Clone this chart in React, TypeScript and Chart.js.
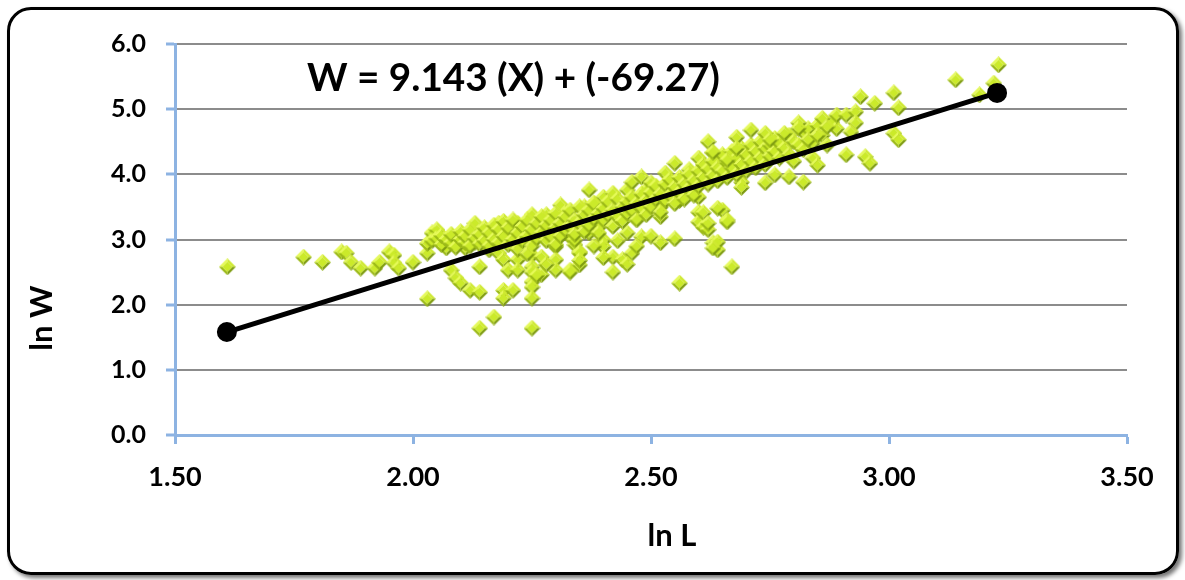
import React, { useEffect, useRef } from 'react';
import { Chart, registerables } from 'chart.js';

Chart.register(...registerables);

// ---- data (ln L, ln W) ----
const tailPoints: [number, number][] = [
  [1.61, 2.58], [1.77, 2.73], [1.81, 2.65], [1.85, 2.81], [1.86, 2.79], [1.87, 2.65], [1.89, 2.56],
  [1.92, 2.56], [1.93, 2.65], [1.95, 2.81], [1.96, 2.76], [1.96, 2.64], [1.97, 2.56], [2.0, 2.65],
  [2.03, 2.09], [2.03, 2.79], [2.03, 2.94], [2.04, 3.1], [2.05, 3.15], [2.06, 3.0], [2.07, 2.87],
  [2.08, 2.53], [2.09, 2.41], [2.1, 2.33], [2.09, 3.03], [2.09, 2.95], [2.11, 2.87], [2.13, 3.25],
  [2.12, 2.22], [2.14, 2.19], [2.14, 1.64], [2.13, 2.96], [2.14, 3.12], [2.16, 3.04], [2.16, 2.84],
  [2.14, 2.58], [2.18, 3.25], [2.17, 1.81], [2.18, 3.12], [2.18, 2.79],
];

const lowerPoints: [number, number][] = [
  [2.19, 2.69], [2.2, 2.53], [2.19, 2.22], [2.21, 2.22], [2.19, 2.1], [2.2, 3.04], [2.21, 3.12],
  [2.22, 3.25], [2.22, 2.95], [2.22, 2.69], [2.22, 2.53], [2.23, 3.04], [2.25, 3.38], [2.25, 3.0],
  [2.25, 2.76], [2.25, 2.58], [2.25, 2.5], [2.25, 2.35], [2.25, 2.27], [2.25, 2.1], [2.25, 1.64],
  [2.27, 3.19], [2.27, 2.73], [2.27, 2.46], [2.28, 3.38], [2.29, 3.19], [2.3, 3.04], [2.3, 2.89],
  [2.3, 2.69], [2.3, 2.53], [2.31, 3.53], [2.32, 3.41], [2.33, 3.04], [2.34, 2.92], [2.33, 2.53],
  [2.35, 2.61], [2.35, 2.81], [2.37, 3.1], [2.36, 3.5], [2.38, 3.5], [2.38, 3.3], [2.37, 3.76],
  [2.34, 2.99], [2.35, 2.79], [2.33, 2.5], [2.38, 3.56], [2.4, 3.65], [2.39, 3.19], [2.4, 2.99],
  [2.4, 2.89], [2.42, 3.71], [2.42, 2.73], [2.42, 2.5], [2.45, 3.76], [2.45, 3.1], [2.44, 2.69],
  [2.46, 2.79], [2.46, 3.88], [2.48, 3.96], [2.47, 3.33], [2.48, 3.04], [2.49, 3.76], [2.5, 3.87],
  [2.5, 3.56], [2.53, 4.02], [2.52, 3.5], [2.52, 3.35], [2.55, 4.17], [2.55, 3.01], [2.54, 3.76],
  [2.56, 2.33], [2.56, 3.6], [2.58, 4.07], [2.6, 4.25], [2.6, 3.65], [2.6, 3.42], [2.6, 3.27],
  [2.61, 3.19], [2.62, 3.15], [2.63, 2.95], [2.64, 2.84], [2.65, 3.45], [2.66, 3.3], [2.67, 2.58],
  [2.63, 4.33], [2.65, 4.25], [2.67, 4.22], [2.69, 3.88], [2.7, 4.27], [2.71, 4.17],
];

const upperPoints: [number, number][] = [
  [2.62, 4.5], [2.63, 4.34], [2.66, 4.22], [2.68, 4.57], [2.71, 4.68], [2.68, 4.4], [2.61, 3.41],
  [2.62, 3.25], [2.64, 3.48], [2.66, 3.27], [2.64, 2.96], [2.63, 2.87], [2.69, 3.8], [2.74, 3.87],
  [2.76, 3.99], [2.79, 3.96], [2.82, 3.88], [2.85, 4.14], [2.74, 4.63], [2.75, 4.53], [2.78, 4.63],
  [2.81, 4.79], [2.81, 4.71], [2.83, 4.53], [2.85, 4.6], [2.86, 4.86], [2.87, 4.73], [2.89, 4.91],
  [2.91, 4.91], [2.93, 4.96], [2.93, 4.79], [2.92, 4.65], [2.91, 4.3], [2.95, 4.27], [2.96, 4.17],
  [2.94, 5.19], [2.97, 5.09], [3.01, 5.25], [3.02, 5.02], [3.01, 4.63], [3.02, 4.53], [3.14, 5.45],
  [3.22, 5.4], [3.19, 5.22], [3.23, 5.68],
];

const corePoints: [number, number][] = [
  [2.04, 2.98], [2.05, 3.02], [2.06, 2.92], [2.06, 3.06], [2.07, 3.0], [2.08, 2.95], [2.08, 3.08],
  [2.09, 2.88], [2.1, 3.0], [2.1, 3.12], [2.11, 2.95], [2.11, 3.05], [2.12, 2.9], [2.12, 3.15],
  [2.13, 3.02], [2.14, 2.93], [2.14, 3.08], [2.15, 3.18], [2.15, 2.98], [2.16, 3.1], [2.16, 2.9],
  [2.17, 3.22], [2.17, 3.0], [2.18, 2.95], [2.18, 3.15],
  [2.19, 3.05], [2.19, 3.28], [2.2, 2.92], [2.2, 3.18], [2.21, 3.0], [2.21, 3.3], [2.22, 3.1],
  [2.22, 2.85], [2.23, 3.2], [2.23, 2.98], [2.24, 3.3], [2.24, 3.05], [2.25, 3.15], [2.25, 2.9],
  [2.26, 3.25], [2.26, 3.02], [2.27, 3.35], [2.27, 3.1], [2.28, 2.98], [2.28, 3.22], [2.29, 3.3],
  [2.29, 3.05], [2.3, 3.4], [2.3, 3.18], [2.3, 2.92],
  [2.31, 3.25], [2.31, 3.05], [2.32, 3.35], [2.32, 3.15], [2.33, 3.45], [2.33, 3.2], [2.34, 3.3],
  [2.34, 3.08], [2.35, 3.5], [2.35, 3.25], [2.36, 3.38], [2.36, 3.12], [2.37, 3.45], [2.37, 3.22],
  [2.38, 3.55], [2.38, 3.32], [2.39, 3.4], [2.39, 3.1], [2.4, 3.48], [2.4, 3.3], [2.41, 3.58],
  [2.41, 3.38], [2.42, 3.45], [2.42, 3.2], [2.43, 3.62], [2.43, 3.35], [2.44, 3.5], [2.44, 3.28],
  [2.45, 3.58], [2.45, 3.4],
  [2.46, 3.65], [2.46, 3.45], [2.47, 3.55], [2.47, 3.3], [2.48, 3.7], [2.48, 3.48], [2.49, 3.6],
  [2.49, 3.38], [2.5, 3.72], [2.5, 3.5], [2.51, 3.82], [2.51, 3.62], [2.52, 3.7], [2.52, 3.42],
  [2.53, 3.85], [2.53, 3.6], [2.54, 3.92], [2.54, 3.68], [2.55, 3.8], [2.55, 3.55], [2.56, 3.95],
  [2.56, 3.72], [2.57, 3.85], [2.57, 3.62], [2.58, 4.0], [2.58, 3.78], [2.59, 3.9], [2.59, 3.68],
  [2.6, 4.05], [2.6, 3.82],
  [2.61, 3.95], [2.61, 4.15], [2.62, 3.85], [2.62, 4.08], [2.63, 4.2], [2.63, 3.98], [2.64, 4.1],
  [2.64, 3.9], [2.65, 4.3], [2.65, 4.05], [2.66, 4.18], [2.66, 3.95], [2.67, 4.35], [2.67, 4.1],
  [2.68, 4.25], [2.68, 4.0], [2.69, 4.4], [2.69, 4.15], [2.7, 4.3], [2.7, 4.05], [2.71, 4.45],
  [2.71, 4.2], [2.72, 4.35], [2.72, 4.1], [2.73, 4.5], [2.73, 4.25], [2.74, 4.4], [2.74, 4.15],
  [2.75, 4.45], [2.75, 4.28],
  [2.76, 4.55], [2.76, 4.35], [2.77, 4.48], [2.77, 4.25], [2.78, 4.4], [2.79, 4.6], [2.79, 4.3],
  [2.8, 4.5], [2.8, 4.2], [2.81, 4.45], [2.82, 4.65], [2.82, 4.38], [2.83, 4.7], [2.84, 4.48],
  [2.84, 4.25], [2.85, 4.75], [2.86, 4.6], [2.87, 4.45], [2.88, 4.8], [2.89, 4.7],
  [2.38, 2.9], [2.4, 2.72], [2.43, 2.98], [2.45, 2.62], [2.47, 2.9], [2.5, 3.05], [2.52, 2.95],
  [2.35, 2.68], [2.28, 2.62], [2.26, 2.45], [2.24, 2.78],
];

const fitL = [1.609, 3.227];
const fitW = [1.58, 5.25];

const xMin = 1.5;
const xMax = 3.5;
const xStep = 0.5;
const yMin = 0;
const yMax = 6;
const yStep = 1;

const equationText = 'W = 9.143 (X) + (-69.27)';
const xTitle = 'ln L';
const yTitle = 'ln W';

const FONT = 'Lato, "Open Sans", sans-serif';

function makeDiamond(size: number): HTMLCanvasElement {
  const c = document.createElement('canvas');
  c.width = size;
  c.height = size;
  const g = c.getContext('2d')!;
  const h = size / 2;
  const k = size * 0.2;
  const T = [h, 0], R = [size, h], B = [h, size], L = [0, h];
  const t = [h, k], r = [size - k, h], b = [h, size - k], l = [k, h];
  const poly = (pts: number[][], fill: string) => {
    g.beginPath();
    g.moveTo(pts[0][0], pts[0][1]);
    for (let i = 1; i < pts.length; i++) g.lineTo(pts[i][0], pts[i][1]);
    g.closePath();
    g.fillStyle = fill;
    g.fill();
  };
  poly([L, T, t, l], '#e6fa5a');
  poly([T, R, r, t], '#cfe932');
  poly([R, B, b, r], '#7f9c12');
  poly([B, L, l, b], '#9cba18');
  poly([t, r, b, l], '#cbea2a');
  return c;
}

const overlayPlugin = {
  id: 'overlayText',
  afterDraw(chart: any) {
    const ctx = chart.ctx;
    ctx.save();
    ctx.fillStyle = '#000';
    // equation
    let size = 38;
    ctx.font = `bold ${size}px ${FONT}`;
    const w = ctx.measureText(equationText).width;
    size = size * 413 / w;
    ctx.font = `bold ${size}px ${FONT}`;
    ctx.textAlign = 'left';
    ctx.textBaseline = 'alphabetic';
    ctx.fillText(equationText, 307, 91);
    // axis titles
    ctx.font = `bold 31px ${FONT}`;
    ctx.textAlign = 'center';
    ctx.textBaseline = 'middle';
    ctx.fillText(xTitle, 672, 536);
    ctx.translate(42, 318);
    ctx.rotate(-Math.PI / 2);
    ctx.fillText(yTitle, 0, 0);
    ctx.restore();
  },
};

export default function App() {
  const ref = useRef<HTMLCanvasElement>(null);

  useEffect(() => {
    document.body.style.margin = '0';
    const canvas = ref.current!;
    const diamond = makeDiamond(17);
    const toXY = (arr: [number, number][]) => arr.map(([x, y]) => ({ x, y }));
    const scatterData = [
      ...toXY(tailPoints),
      ...toXY(lowerPoints),
      ...toXY(corePoints),
      ...toXY(upperPoints),
    ];
    const lineData = fitL.map((x, i) => ({ x, y: fitW[i] }));

    const chart = new Chart(canvas, {
      type: 'scatter',
      data: {
        datasets: [
          {
            label: 'fit',
            data: lineData,
            showLine: true,
            borderColor: '#000',
            borderWidth: 5,
            pointRadius: 7.5,
            pointBackgroundColor: '#000',
            pointBorderColor: '#000',
          } as any,
          {
            label: 'ln W',
            data: scatterData,
            pointStyle: diamond as any,
            pointRadius: 8,
          } as any,
        ],
      },
      plugins: [overlayPlugin],
      options: {
        responsive: false,
        animation: false,
        events: [],
        layout: { padding: { top: 44, right: 58, left: 0, bottom: 0 } },
        plugins: { legend: { display: false }, tooltip: { enabled: false } },
        scales: {
          x: {
            type: 'linear',
            min: xMin,
            max: xMax,
            afterFit: (s: any) => { s.height = 145; },
            ticks: {
              stepSize: xStep,
              color: '#000',
              padding: 17,
              font: { family: FONT, weight: 'bold', size: 27 },
              callback: (v: any) => Number(v).toFixed(2),
            },
            grid: {
              drawOnChartArea: false,
              tickColor: '#8db3e2',
              tickLength: 9,
              tickWidth: 3,
            },
            border: { color: '#8db3e2', width: 3 },
          },
          y: {
            type: 'linear',
            min: yMin,
            max: yMax,
            afterFit: (s: any) => { s.width = 175; },
            ticks: {
              stepSize: yStep,
              color: '#000',
              padding: 20,
              font: { family: FONT, weight: 'bold', size: 25 },
              callback: (v: any) => Number(v).toFixed(1),
            },
            grid: {
              color: '#8c8c8c',
              lineWidth: 2,
              tickColor: '#8db3e2',
              tickLength: 9,
              tickWidth: 3,
            },
            border: { color: '#8db3e2', width: 3 },
          },
        },
      } as any,
    });
    return () => chart.destroy();
  }, []);

  return (
    <div style={{ position: 'relative', width: 1185, height: 580, background: '#fff' }}>
      <canvas ref={ref} width={1185} height={580} style={{ position: 'absolute', left: 0, top: 0, width: 1185, height: 580 }} />
      <div
        style={{
          position: 'absolute',
          left: 7,
          top: 7,
          width: 1172,
          height: 568,
          boxSizing: 'border-box',
          border: '3px solid #000',
          borderRadius: 24,
          boxShadow: '3px 3px 4px rgba(0,0,0,0.55)',
          pointerEvents: 'none',
        }}
      />
    </div>
  );
}
